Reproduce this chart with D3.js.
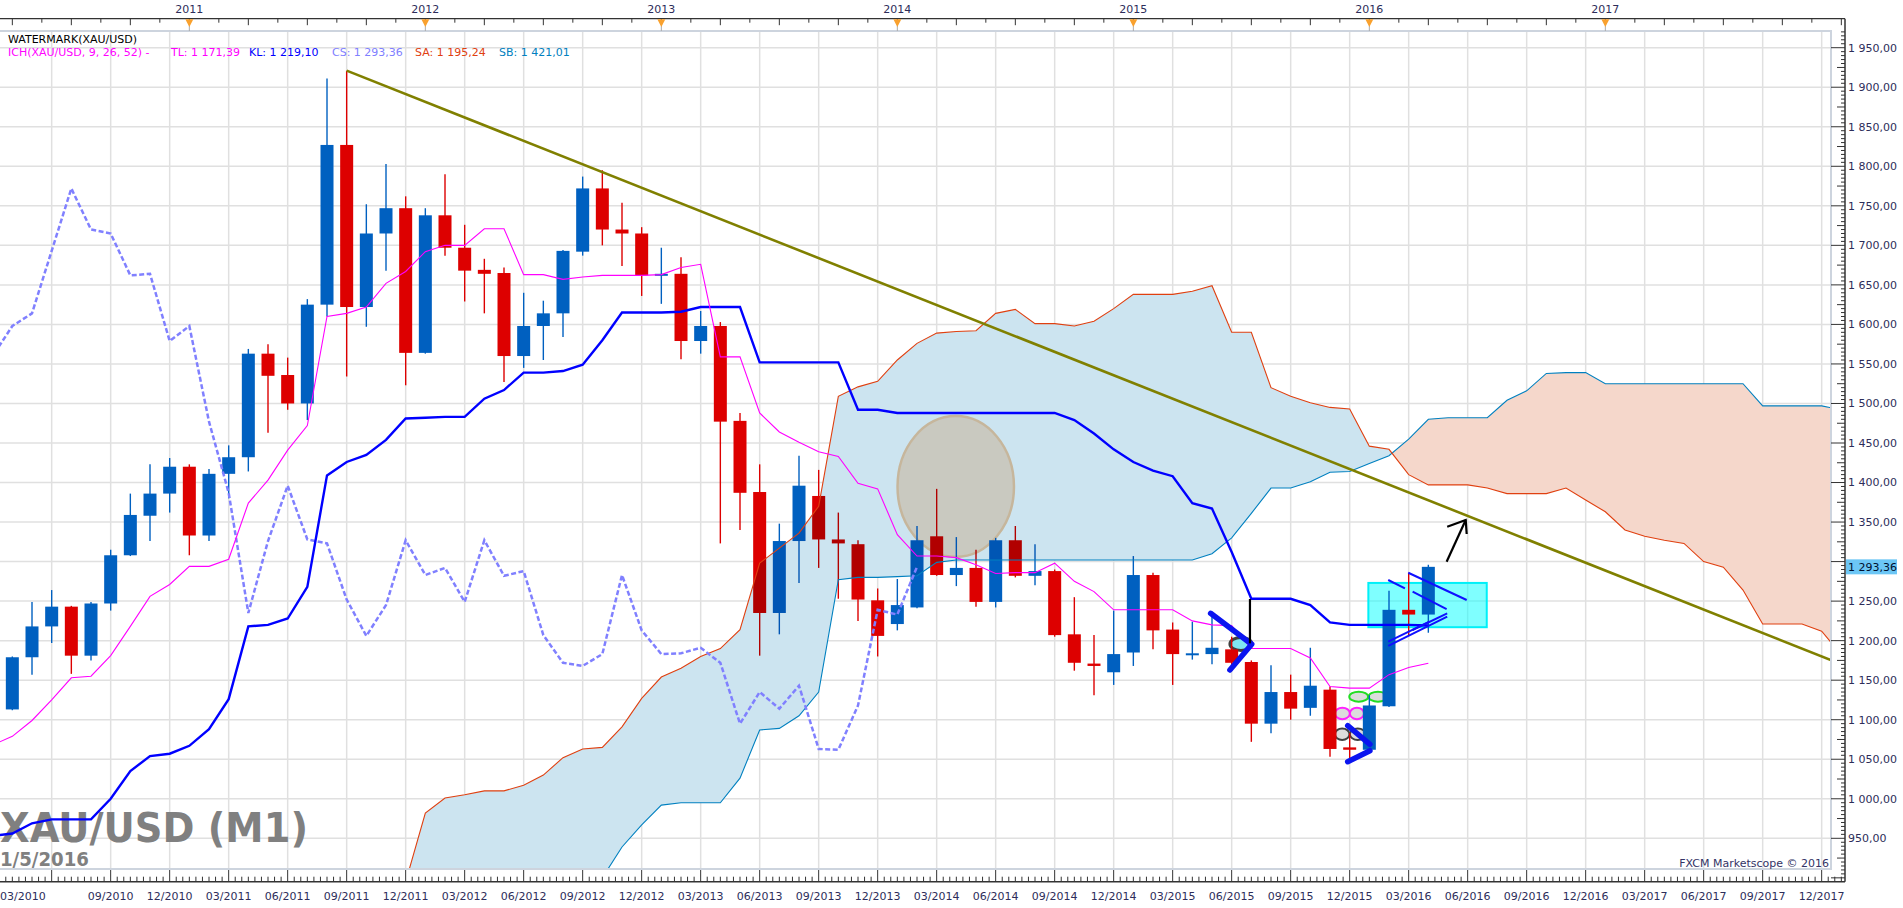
<!DOCTYPE html>
<html>
<head>
<meta charset="utf-8">
<script src="https://cdn.jsdelivr.net/npm/d3@7"></script>
<style>
  body { margin: 0; background: #fff; overflow: hidden; }
  svg { display: block; font-family: "DejaVu Sans", Verdana, sans-serif; }
</style>
</head>
<body>
<svg id="chart" width="1903" height="908"></svg>
<script>
// month index: 0 = 01/2010, monthly candles XAU/USD
const firstCandle = "04/2010";
const open = [1113,1179,1218,1243,1181,1247,1308,1358,1386,1420,
  1333,1411,1432,1563,1536,1500,1625,1827,1622,1715,
  1747,1564,1738,1697,1669,1665,1560,1598,1614,1692,
  1772,1720,1715,1662,1664,1579,1598,1478,1388,1235,
  1326,1383,1328,1322,1251,1221,1242,1332,1283,1292,
  1249,1327,1282,1288,1208,1171,1160,1185,1283,1214,
  1182,1183,1189,1173,1095,1135,1115,1138,1065,1062,
  1117,1239,1233];
const high = [1180,1249,1264,1244,1249,1315,1386,1423,1431,1423,
  1417,1447,1569,1575,1558,1632,1911,1921,1752,1803,
  1762,1747,1790,1726,1683,1672,1640,1630,1694,1787,
  1795,1754,1723,1697,1685,1617,1603,1488,1423,1348,
  1434,1416,1362,1327,1266,1278,1345,1392,1331,1315,
  1330,1345,1322,1290,1255,1207,1238,1307,1286,1223,
  1224,1230,1205,1175,1169,1157,1191,1142,1083,1131,
  1263,1286,1296];
const low = [1112,1157,1197,1158,1175,1238,1307,1326,1362,1308,
  1326,1380,1414,1463,1492,1479,1610,1534,1597,1668,
  1523,1563,1687,1629,1614,1527,1545,1555,1584,1687,
  1700,1674,1636,1626,1556,1563,1323,1340,1181,1208,
  1273,1292,1253,1225,1180,1213,1241,1282,1269,1243,
  1242,1280,1270,1205,1162,1131,1144,1168,1189,1144,
  1176,1170,1162,1072,1083,1100,1105,1053,1049,1061,
  1116,1206,1210];
const close = [1179,1218,1243,1181,1247,1308,1359,1386,1420,1333,
  1411,1432,1563,1535,1500,1625,1827,1622,1715,1747,
  1564,1738,1697,1668,1664,1560,1598,1614,1693,1772,
  1720,1715,1662,1664,1579,1598,1477,1387,1235,1326,
  1396,1328,1323,1252,1206,1245,1327,1283,1292,1249,
  1327,1282,1288,1207,1172,1168,1183,1283,1213,1183,
  1184,1191,1172,1095,1135,1114,1143,1063,1062,1118,
  1239,1233,1293.36];

// Ichimoku lines
const lineStart = "03/2010";
const tenkan = [1068,1079,1099,1125,1153,1155,1181,1218,1256,1271,
  1294,1294,1303,1374,1403,1441,1472,1610,1614,1622,
  1652,1667,1692,1700,1700,1721,1721,1663,1663,1657,
  1660,1662,1662,1662,1663,1672,1676,1559,1559,1488,
  1464,1451,1439,1433,1399,1392,1334,1307,1307,1305,
  1296,1285,1286,1286,1298,1275,1262,1239,1239,1239,
  1239,1225,1220,1219,1190,1190,1190,1178,1142,1140,
  1140,1157,1166,1171.39];
const kijun = [953,956,969,974,974,974,1000,1035,1054,1057,
  1067,1088,1126,1218,1220,1228,1268,1409,1426,1435,
  1454,1481,1482,1483,1483,1506,1517,1539,1539,1541,
  1549,1580,1615,1615,1615,1616,1622,1622,1622,1552,
  1552,1552,1552,1552,1492,1492,1488,1488,1488,1488,
  1488,1488,1488,1488,1488,1479,1462,1442,1426,1415,
  1408,1374,1367,1312,1253,1253,1253,1245,1223,1220,
  1220,1220,1220,1219.10];

const senkouStart = "11/2011";
const senkouA = [870,895,982,1001,1005,1010,1010,1017,1030,1052,
  1063,1065,1091,1127,1154,1165,1180,1190,1214,1298,
  1317,1336,1370,1509,1521,1528,1555,1576,1589,1591,
  1592,1614,1619,1601,1601,1598,1604,1620,1638,1638,
  1638,1642,1649,1590,1590,1520,1509,1501,1495,1493,
  1446,1442,1410,1397,1397,1397,1393,1386,1386,1386,
  1393,1378,1363,1340,1332,1327,1323,1300,1293,1264,
  1221,1221,1221,1212,1182];
const senkouB = [855,855,855,855,855,855,855,855,860,870,
  885,900,939,967,992,995,995,995,1026,1087,
  1089,1105,1135,1277,1280,1280,1281,1282,1299,1302,
  1302,1302,1302,1302,1302,1302,1302,1302,1302,1302,
  1302,1302,1310,1330,1361,1393,1393,1401,1413,1414,
  1424,1434,1455,1480,1482,1482,1482,1504,1516,1538,
  1539,1539,1525,1525,1525,1525,1525,1525,1525,1525,
  1497,1497,1497,1497,1492];

const priceTicks = [950,1000,1050,1100,1150,1200,1250,1300,1350,1400,1450,
  1500,1550,1600,1650,1700,1750,1800,1850,1900,1950];
const xTickLabels = ["03/2010","09/2010","12/2010","03/2011","06/2011","09/2011","12/2011",
  "03/2012","06/2012","09/2012","12/2012","03/2013","06/2013","09/2013","12/2013",
  "03/2014","06/2014","09/2014","12/2014","03/2015","06/2015","09/2015","12/2015",
  "03/2016","06/2016","09/2016","12/2016","03/2017","06/2017","09/2017","12/2017"];
const yearLabels = ["2011","2012","2013","2014","2015","2016","2017"];
const lastPrice = 1293.36;

// hand drawn objects, in (month index, price)
const trendLine = [[20, 1921], [95.5, 1175]];
const circleNote = { m: 50.97, p: 1395, rm: 2.96, rp: 89 };
const boxNote = { m0: 71.95, m1: 77.97, p0: 1217, p1: 1273 };
const penLines = [
  [[72.96,1276.7],[73.81,1266.2]], [[73.98,1285.9],[76.95,1251.4]],
  [[74.20,1261.9],[75.93,1240.0]], [[72.96,1198.7],[75.05,1224.0]],
  [[72.96,1193.3],[75.96,1230.3]], [[74.20,1213.5],[75.96,1234.6]]];
const thickStrokes = [
  [[63.93,1234.6],[66.02,1195.4],[64.91,1162.9]],
  [[70.90,1092.4],[72.03,1068.9]], [[70.90,1046.9],[72.03,1060.8]]];
const blackStrokes = [
  [[65.93,1252.7],[65.93,1196.6]],
  [[75.93,1299.9],[76.90,1352.6]],
  [[75.96,1344.1],[76.90,1352.6],[76.95,1334.9]]];
const ovals = [
  { m: 65.47, p: 1195.8, rm: 0.56, rp: 8.2, stroke: "#404040", fill: "#7fe6f2", sw: 3 },
  { m: 71.46, p: 1129.1, rm: 0.48, rp: 6.3, stroke: "#22dd22", fill: "#dcdcdc", sw: 2 },
  { m: 72.44, p: 1129.1, rm: 0.48, rp: 6.3, stroke: "#22dd22", fill: "#dcdcdc", sw: 2 },
  { m: 70.63, p: 1107.9, rm: 0.38, rp: 7.3, stroke: "#ff22ff", fill: "#dcdcdc", sw: 2 },
  { m: 71.37, p: 1107.9, rm: 0.36, rp: 7.3, stroke: "#ff22ff", fill: "#dcdcdc", sw: 2 },
  { m: 70.62, p: 1081.7, rm: 0.37, rp: 7.3, stroke: "#404040", fill: "#dcdcdc", sw: 2 },
  { m: 71.41, p: 1081.7, rm: 0.40, rp: 7.3, stroke: "#404040", fill: "#dcdcdc", sw: 2 }];

const mIdx = s => { const [m, yr] = s.split("/"); return (+yr - 2010) * 12 + (+m - 1); };
const fmt = d3.formatLocale({ decimal: ",", thousands: " ", grouping: [3], currency: ["", ""] }).format(",.2f");

const plot = { left: 0, top: 31, right: 1831, bottom: 869 };
const axisX = 1845, axisBottom = 881.7, axisTop = 18.7;
const textCol = "#2d2d5a";

const x = d3.scaleLinear().domain([5, 83]).range([51.67, 1585.67]);
const y = d3.scaleLinear().domain([950, 1950]).range([838.3, 47.7]);

const svg = d3.select("#chart");
svg.append("defs").append("clipPath").attr("id", "plotClip")
  .append("rect").attr("x", plot.left).attr("y", plot.top)
  .attr("width", plot.right - plot.left).attr("height", plot.bottom - plot.top);

// grid
const grid = svg.append("g").attr("clip-path", "url(#plotClip)");
grid.selectAll(".hg").data(priceTicks).join("line")
  .attr("x1", plot.left).attr("x2", plot.right)
  .attr("y1", d => y(d)).attr("y2", d => y(d))
  .attr("stroke", "#e0e0e0").attr("stroke-width", 1.5);
grid.selectAll(".vg").data(d3.range(2, 97, 3)).join("line")
  .attr("x1", d => x(d)).attr("x2", d => x(d))
  .attr("y1", plot.top).attr("y2", plot.bottom)
  .attr("stroke", "#e0e0e0").attr("stroke-width", 1.5);

// watermark
const wm = svg.append("g").attr("fill", "#808080").attr("font-weight", "bold");
wm.append("text").attr("x", 0).attr("y", 841.5).attr("font-size", 40)
  .attr("textLength", 308).attr("lengthAdjust", "spacingAndGlyphs").text("XAU/USD (M1)");
wm.append("text").attr("x", 0).attr("y", 866).attr("font-size", 20)
  .attr("textLength", 89).attr("lengthAdjust", "spacingAndGlyphs").text("1/5/2016");

const main = svg.append("g").attr("clip-path", "url(#plotClip)");

// big circle note
main.append("ellipse")
  .attr("cx", x(circleNote.m)).attr("cy", y(circleNote.p))
  .attr("rx", x(circleNote.m + circleNote.rm) - x(circleNote.m))
  .attr("ry", y(circleNote.p - circleNote.rp) - y(circleNote.p))
  .attr("fill", "#fbe1cc").attr("stroke", "#f8cca6").attr("stroke-width", 2.5);

// cyan box
main.append("rect")
  .attr("x", x(boxNote.m0)).attr("y", y(boxNote.p1))
  .attr("width", x(boxNote.m1) - x(boxNote.m0)).attr("height", y(boxNote.p0) - y(boxNote.p1))
  .attr("fill", "rgba(0,255,255,0.5)").attr("stroke", "#00f0f8").attr("stroke-width", 2);

// small ovals
main.selectAll(".oval").data(ovals).join("ellipse")
  .attr("cx", d => x(d.m)).attr("cy", d => y(d.p))
  .attr("rx", d => x(d.m + d.rm) - x(d.m)).attr("ry", d => y(d.p - d.rp) - y(d.p))
  .attr("fill", d => d.fill).attr("stroke", d => d.stroke).attr("stroke-width", d => d.sw);

// candles
const c0 = mIdx(firstCandle);
const candles = open.map((o, k) => ({ i: c0 + k, o, h: high[k], l: low[k], c: close[k] }));
const col = d => d.c >= d.o ? "#0060c0" : "#dd0000";
const cg = main.append("g");
cg.selectAll(".wick").data(candles).join("line")
  .attr("x1", d => x(d.i)).attr("x2", d => x(d.i))
  .attr("y1", d => y(d.h)).attr("y2", d => y(d.l))
  .attr("stroke", col).attr("stroke-width", 1.4);
cg.selectAll(".body").data(candles).join("rect")
  .attr("x", d => x(d.i) - 6.5).attr("width", 13)
  .attr("y", d => y(Math.max(d.o, d.c)))
  .attr("height", d => Math.max(2, Math.abs(y(d.o) - y(d.c))))
  .attr("fill", col);

// cloud
const s0 = mIdx(senkouStart);
const cloud = [];
senkouA.forEach((a, k) => {
  const b = senkouB[k], i = s0 + k;
  if (k > 0) {
    const pa = senkouA[k - 1], pb = senkouB[k - 1];
    if ((pa - pb) * (a - b) < 0) {
      const t = (pa - pb) / ((pa - pb) - (a - b));
      const v = pa + t * (a - pa);
      cloud.push({ i: i - 1 + t, a: v, b: v });
    }
  }
  cloud.push({ i, a, b });
});
const upArea = d3.area().x(d => x(d.i)).y0(d => y(d.b)).y1(d => y(Math.max(d.a, d.b)));
const downArea = d3.area().x(d => x(d.i)).y0(d => y(d.a)).y1(d => y(Math.max(d.a, d.b)));
main.append("path").attr("d", upArea(cloud)).attr("fill", "#cce4f0").style("mix-blend-mode", "multiply");
main.append("path").attr("d", downArea(cloud)).attr("fill", "#f5d7cb").style("mix-blend-mode", "multiply");

// lines
const line = d3.line().x(d => x(d.i)).y(d => y(d.v));
const l0 = mIdx(lineStart);
const series = (arr, start) => arr.map((v, k) => ({ i: start + k, v }));
main.append("path").attr("d", line(series(senkouB, s0)))
  .attr("fill", "none").attr("stroke", "#0080c0").attr("stroke-width", 1.1);
main.append("path").attr("d", line(series(senkouA, s0)))
  .attr("fill", "none").attr("stroke", "#e04010").attr("stroke-width", 1.1);
main.append("path").attr("d", line(candles.map(d => ({ i: d.i - 26, v: d.c }))))
  .attr("fill", "none").attr("stroke", "#8080ff").attr("stroke-width", 2.5)
  .attr("stroke-dasharray", "5,2.5");
main.append("path").attr("d", line(series(kijun, l0)))
  .attr("fill", "none").attr("stroke", "#0000ff").attr("stroke-width", 2.4);
main.append("path").attr("d", line(series(tenkan, l0)))
  .attr("fill", "none").attr("stroke", "#ff00ff").attr("stroke-width", 1.1);
main.append("path").attr("d", line(trendLine.map(([i, v]) => ({ i, v }))))
  .attr("fill", "none").attr("stroke", "#808000").attr("stroke-width", 2.6);

// drawings
const pl = d3.line().x(d => x(d[0])).y(d => y(d[1]));
main.selectAll(".pen").data(penLines).join("path").attr("d", pl)
  .attr("fill", "none").attr("stroke", "#1010ff").attr("stroke-width", 2);
main.selectAll(".thick").data(thickStrokes).join("path").attr("d", pl)
  .attr("fill", "none").attr("stroke", "#0a14f0").attr("stroke-width", 5.5)
  .attr("stroke-linecap", "round").attr("stroke-linejoin", "round");
main.selectAll(".blk").data(blackStrokes).join("path").attr("d", pl)
  .attr("fill", "none").attr("stroke", "#000").attr("stroke-width", 2.2);

// frame
svg.append("rect").attr("x", -2).attr("y", plot.top).attr("width", plot.right + 2)
  .attr("height", plot.bottom - plot.top).attr("fill", "none")
  .attr("stroke", "#cdd4de").attr("stroke-width", 2);

// right axis
const ax = svg.append("g");
ax.append("line").attr("x1", axisX).attr("x2", axisX).attr("y1", axisTop).attr("y2", axisBottom)
  .attr("stroke", "#333").attr("stroke-width", 1.5);
const minor = d3.range(180, 396).map(k => k * 5).filter(v => y(v) > plot.top && y(v) < axisBottom);
ax.selectAll(".yt").data(minor).join("line")
  .attr("x1", d => axisX - (d % 50 === 0 ? 14 : d % 25 === 0 ? 8 : 4)).attr("x2", axisX)
  .attr("y1", d => y(d)).attr("y2", d => y(d))
  .attr("stroke", "#333").attr("stroke-width", 1);
// the last-price badge hides the tick label it would cover
ax.selectAll(".yl").data(priceTicks.filter(d => Math.abs(y(d) - y(lastPrice)) > 12)).join("text")
  .attr("x", 1848).attr("y", d => y(d)).attr("dy", "0.36em")
  .attr("font-size", 11).attr("fill", textCol).text(d => fmt(d));
ax.append("rect").attr("x", 1846).attr("y", y(lastPrice) - 7.5).attr("width", 51).attr("height", 15)
  .attr("fill", "#6cc6f5");
ax.append("text").attr("x", 1848).attr("y", y(lastPrice)).attr("dy", "0.36em")
  .attr("font-size", 11).attr("fill", "#001030").text(fmt(lastPrice));

// bottom axis
ax.append("line").attr("x1", 0).attr("x2", axisX).attr("y1", axisBottom).attr("y2", axisBottom)
  .attr("stroke", "#333").attr("stroke-width", 1.5);
const bt = d3.range(6, 291).map(k => k / 3).filter(t => x(t) >= 0 && x(t) <= axisX);
ax.selectAll(".xt").data(bt).join("line")
  .attr("x1", d => x(d)).attr("x2", d => x(d))
  .attr("y1", d => Math.abs(d - Math.round(d)) < 1e-6 && (Math.round(d) - 2) % 3 === 0 ? plot.bottom + 1 : axisBottom - 5)
  .attr("y2", axisBottom).attr("stroke", "#333").attr("stroke-width", 1);
ax.selectAll(".xl").data(xTickLabels).join("text")
  .attr("x", d => Math.max(0, x(mIdx(d)))).attr("y", 899.5)
  .attr("text-anchor", d => x(mIdx(d)) < 24 ? "start" : "middle")
  .attr("font-size", 11).attr("fill", textCol).text(d => d);

// top axis
ax.append("line").attr("x1", 0).attr("x2", axisX).attr("y1", axisTop).attr("y2", axisTop)
  .attr("stroke", "#333").attr("stroke-width", 1.2);
ax.selectAll(".tt").data(d3.range(0, 97, 1.5).filter(t => x(t) >= 0 && x(t) < axisX)).join("line")
  .attr("x1", d => x(d)).attr("x2", d => x(d))
  .attr("y1", axisTop).attr("y2", d => axisTop + (d % 3 === 0 ? 6.5 : 4))
  .attr("stroke", "#333").attr("stroke-width", 1);
const yrs = ax.selectAll(".yr").data(yearLabels).join("g")
  .attr("transform", d => `translate(${x(mIdx("01/" + d))},0)`);
yrs.append("line").attr("y1", 26).attr("y2", plot.top).attr("stroke", "#aaa").attr("stroke-width", 1);
yrs.append("path").attr("d", `M-4,${axisTop + 0.5}L4,${axisTop + 0.5}L0,27Z`).attr("fill", "#f9a12e");
yrs.append("text").attr("y", 13.3).attr("text-anchor", "middle")
  .attr("font-size", 11).attr("fill", textCol).text(d => d);

// legend
svg.append("text").attr("x", 8).attr("y", 43).attr("font-size", 11).attr("fill", "#000")
  .text("WATERMARK(XAU/USD)");
const legend = [
  { x: 8, text: "ICH(XAU/USD, 9, 26, 52) -", color: "#ff00ff" },
  { x: 171, text: "TL: 1 171,39", color: "#ff00ff" },
  { x: 249, text: "KL: 1 219,10", color: "#0000ff" },
  { x: 332, text: "CS: 1 293,36", color: "#8080ff" },
  { x: 415, text: "SA: 1 195,24", color: "#e04010" },
  { x: 499, text: "SB: 1 421,01", color: "#0080c0" }];
svg.selectAll(".lg").data(legend).join("text")
  .attr("x", d => d.x).attr("y", 56).attr("font-size", 11)
  .attr("fill", d => d.color).text(d => d.text);

svg.append("text").attr("x", 1829).attr("y", 867).attr("text-anchor", "end")
  .attr("font-size", 11).attr("fill", "#333366").text("FXCM Marketscope © 2016");
</script>
</body>
</html>
